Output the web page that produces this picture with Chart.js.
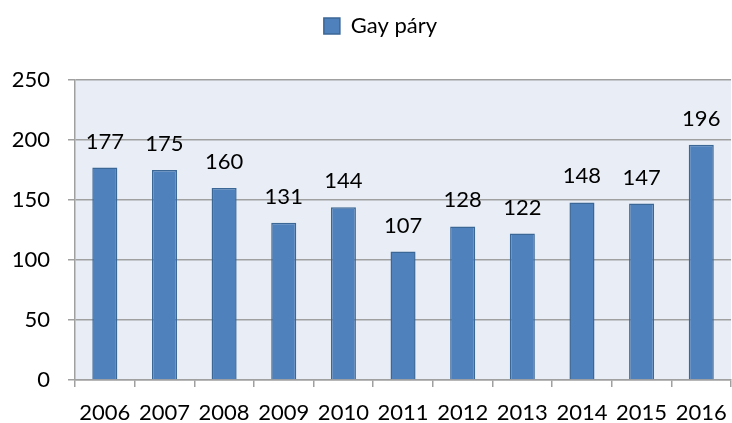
<!DOCTYPE html>
<html>
<head>
<meta charset="utf-8">
<script src="https://cdn.jsdelivr.net/npm/chart.js@4/dist/chart.umd.min.js"></script>
<style>
html,body{margin:0;padding:0;background:#fff;overflow:hidden;}
canvas{display:block;}
</style>
</head>
<body>
<canvas id="c" width="740" height="423"></canvas>
<script>
const categories = ["2006","2007","2008","2009","2010","2011","2012","2013","2014","2015","2016"];
const seriesName = "Gay páry";
const values = [177,175,160,131,144,107,128,122,148,147,196];
const yTicks = [0,50,100,150,200,250];

const FONT = "Lato, 'Liberation Sans', sans-serif";

const plotBg = {
  id: 'plotBg',
  beforeDraw(chart) {
    const a = chart.chartArea, ctx = chart.ctx;
    ctx.save();
    ctx.fillStyle = '#e9eef6';
    ctx.fillRect(a.left, a.top, a.right - a.left, a.bottom - a.top);
    ctx.restore();
  }
};

const legendShift = {
  id: 'legendShift',
  afterLayout(chart) {
    const l = chart.legend;
    if (!l) return;
    const dx = 13, dy = -33;
    l.left += dx; l.right += dx;
    l.top += dy; l.bottom += dy;
  }
};

const dataLabels = {
  id: 'dataLabels',
  afterDatasetsDraw(chart) {
    const ctx = chart.ctx;
    const meta = chart.getDatasetMeta(0);
    ctx.save();
    ctx.font = '22px ' + FONT;
    ctx.fillStyle = '#000';
    ctx.textAlign = 'center';
    ctx.textBaseline = 'alphabetic';
    meta.data.forEach((bar, i) => {
      ctx.fillText(String(chart.data.datasets[0].data[i]), bar.x, bar.y - 19);
    });
    ctx.restore();
  }
};

new Chart(document.getElementById('c'), {
  type: 'bar',
  data: {
    labels: categories,
    datasets: [{
      label: seriesName,
      data: values,
      backgroundColor: '#4f81bd',
      borderColor: '#3b6796',
      borderWidth: 1.5,
      categoryPercentage: 1,
      barPercentage: 0.42
    }]
  },
  options: {
    responsive: false,
    animation: false,
    layout: { padding: { left: 0, right: 5, top: 26, bottom: 0 } },
    plugins: {
      legend: {
        position: 'top',
        labels: {
          boxWidth: 16, boxHeight: 16,
          color: '#000',
          font: { family: FONT, size: 22 },
          padding: 22
        }
      },
      tooltip: { enabled: false }
    },
    scales: {
      x: {
        offset: true,
        grid: { display: true, drawOnChartArea: false, drawTicks: true, tickLength: 7, color: '#a0a0a0', lineWidth: 1.5, offset: true },
        border: { display: true, color: '#a0a0a0', width: 1.5 },
        ticks: { color: '#000', font: { family: FONT, size: 22 }, padding: 13, maxRotation: 0, autoSkip: false },
        afterFit(s) { s.height = 43; }
      },
      y: {
        min: 0, max: 250,
        afterBuildTicks(s) { s.ticks = yTicks.map(v => ({ value: v })); },
        grid: { color: '#a0a0a0', lineWidth: 1.5, tickLength: 7 },
        border: { display: true, color: '#a0a0a0', width: 1.5 },
        ticks: { color: '#000', font: { family: FONT, size: 22 }, padding: 18 },
        afterFit(s) { s.width = 75; }
      }
    }
  },
  plugins: [plotBg, legendShift, dataLabels]
});
</script>
</body>
</html>
